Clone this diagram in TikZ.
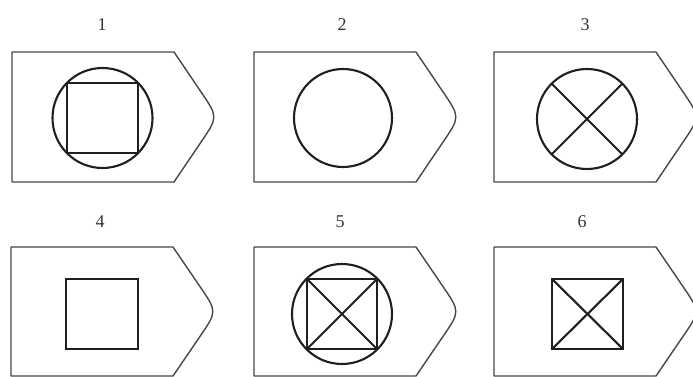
\documentclass[tikz,border=0pt]{standalone}
\usepackage{fontspec}
\setmainfont{Liberation Serif}
\begin{document}
\begin{tikzpicture}[x=1pt,y=-1pt,
  outline/.style={draw=black!72, line width=1.4pt, line join=round},
  sym/.style={draw=black!88, line width=2.1pt},
  lbl/.style={font=\fontsize{18}{22}\selectfont, text=black!80, inner sep=0pt}]
\useasboundingbox (0,0) rectangle (693,377);
% outline: #1 = left x, #2 = top y, #3 = bottom y
\newcommand\tagoutline[3]{%
  \pgfmathsetmacro\cx{#1+162}%
  \pgfmathsetmacro\mid{(#2+#3)/2}%
  \draw[outline] (#1,#2) -- (\cx,#2)
     -- ({\cx+0.62*44},{#2+0.62*(\mid-#2)})
     .. controls ({\cx+44},\mid) .. ({\cx+0.62*44},{#3-0.62*(#3-\mid)})
     -- (\cx,#3) -- (#1,#3) -- cycle;}
% labels
\node[lbl] (l1) at (102,25) {1};
\node[lbl] (l2) at (342,25) {2};
\node[lbl] (l3) at (585,25) {3};
\node[lbl] (l4) at (100,222) {4};
\node[lbl] (l5) at (340,222) {5};
\node[lbl] (l6) at (582,222) {6};
% outlines
\tagoutline{12}{52}{182}
\tagoutline{254}{52}{182}
\tagoutline{494}{52}{182}
\tagoutline{11}{247}{376}
\tagoutline{254}{247}{376}
\tagoutline{494}{247}{376}
% 1
\draw[sym] (102.5,118) circle (50);
\draw[sym] (67,83) rectangle (138,153);
% 2
\draw[sym] (343,118) circle (49);
% 3
\draw[sym] (587,119) circle (50);
\draw[sym] (551.6,83.6) -- (622.4,154.4);
\draw[sym] (551.6,154.4) -- (622.4,83.6);
% 4
\draw[sym] (66,279) rectangle (138,349);
% 5
\draw[sym] (342,314) circle (50);
\draw[sym] (307,279) rectangle (377,349);
\draw[sym] (307,279) -- (377,349);
\draw[sym] (307,349) -- (377,279);
% 6
\draw[sym] (552,279) rectangle (623,349);
\draw[sym] (552,279) -- (623,349);
\draw[sym] (552,349) -- (623,279);
\end{tikzpicture}
\end{document}
